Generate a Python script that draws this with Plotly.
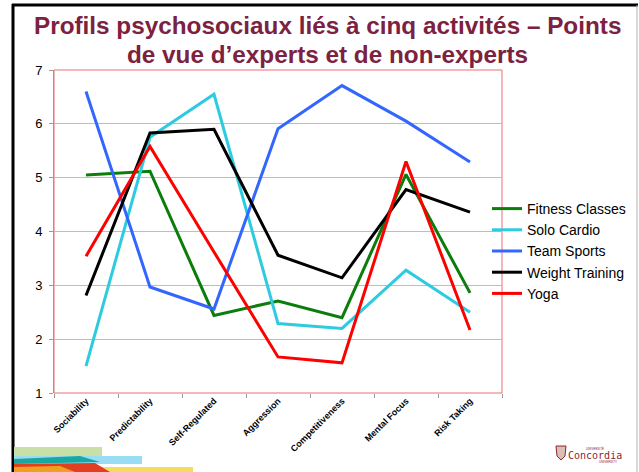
import plotly.graph_objects as go

categories = ["Sociability", "Predictability", "Self-Regulated", "Aggression",
              "Competitiveness", "Mental Focus", "Risk Taking"]
fitness_classes = [5.05, 5.12, 2.44, 2.71, 2.40, 5.06, 2.86]
solo_cardio = [1.50, 5.75, 6.55, 2.29, 2.20, 3.28, 2.50]
team_sports = [6.60, 2.97, 2.56, 5.91, 6.71, 6.05, 5.29]
weight_training = [2.81, 5.83, 5.90, 3.56, 3.14, 4.78, 4.36]
yoga = [3.54, 5.58, 3.62, 1.67, 1.56, 5.30, 2.17]

series_names = ["Fitness Classes", "Solo Cardio", "Team Sports", "Weight Training", "Yoga"]
series_values = [fitness_classes, solo_cardio, team_sports, weight_training, yoga]
series_colors = ["#0B7D0B", "#2DCBE0", "#3366FF", "#000000", "#FF0000"]

title_lines = ["Profils psychosociaux liés à cinq activités – Points",
               "de vue d’experts et de non-experts"]

W, H = 639, 472
L, R, T, B = 54, 502, 70, 393


def px(x):
    return (x - L) / (R - L)


def py(y):
    return (B - y) / (B - T)


fig = go.Figure()
for name, vals, col in zip(series_names, series_values, series_colors):
    fig.add_trace(go.Scatter(x=categories, y=vals, name=name, mode="lines",
                             line=dict(color=col, width=3)))

font = "Liberation Sans, Arial, sans-serif"

shapes = [
    # plot border (red)
    dict(type="rect", xref="paper", yref="paper", x0=0, x1=1, y0=0, y1=1,
         line=dict(color="#E87070", width=1), layer="below"),
    # slide frame
    dict(type="line", xref="paper", yref="paper", x0=px(13), x1=px(13), y0=py(4), y1=py(472),
         line=dict(color="#000000", width=3)),
    dict(type="line", xref="paper", yref="paper", x0=px(12), x1=px(638), y0=py(5), y1=py(5),
         line=dict(color="#000000", width=3)),
    dict(type="line", xref="paper", yref="paper", x0=px(637), x1=px(637), y0=py(5), y1=py(472),
         line=dict(color="#B0B0B0", width=1)),
    # decorative bars bottom-left
    dict(type="rect", xref="paper", yref="paper", x0=px(14), x1=px(102), y0=py(447), y1=py(457),
         line=dict(width=0), fillcolor="#C8E0A8"),
    dict(type="rect", xref="paper", yref="paper", x0=px(14), x1=px(142), y0=py(456), y1=py(464),
         line=dict(width=0), fillcolor="#99DDF5"),
    dict(type="rect", xref="paper", yref="paper", x0=px(14), x1=px(193), y0=py(467), y1=py(472),
         line=dict(width=0), fillcolor="#F5DC60"),
    dict(type="path", xref="paper", yref="paper",
         path=f"M {px(14)},{py(459)} L {px(80)},{py(456)} L {px(100)},{py(462)} L {px(14)},{py(464)} Z",
         line=dict(width=0), fillcolor="#1AA7A0"),
    dict(type="path", xref="paper", yref="paper",
         path=f"M {px(14)},{py(464)} L {px(95)},{py(463)} L {px(110)},{py(472)} L {px(14)},{py(472)} Z",
         line=dict(width=0), fillcolor="#E04020"),
    dict(type="path", xref="paper", yref="paper",
         path=f"M {px(14)},{py(467)} L {px(60)},{py(466)} L {px(75)},{py(472)} L {px(14)},{py(472)} Z",
         line=dict(width=0), fillcolor="#F0A020"),
    # Concordia logo mark
    dict(type="path", xref="paper", yref="paper",
         path=f"M {px(556)},{py(446)} L {px(566)},{py(446)} L {px(565)},{py(456)} L {px(561)},{py(460)} L {px(557)},{py(456)} Z",
         line=dict(color="#8C2633", width=1), fillcolor="#D9BFB5"),
]

annotations = [
    dict(text=title_lines[0], xref="paper", yref="paper", x=px(327), y=py(26),
         xanchor="center", yanchor="middle", showarrow=False,
         font=dict(family=font, size=24.3, color="#7D2140", weight="bold")),
    dict(text=title_lines[1], xref="paper", yref="paper", x=px(327), y=py(55),
         xanchor="center", yanchor="middle", showarrow=False,
         font=dict(family=font, size=24.3, color="#7D2140", weight="bold")),
    dict(text="Concordia", xref="paper", yref="paper", x=px(566), y=py(455),
         xanchor="left", yanchor="middle", showarrow=False,
         font=dict(family="DejaVu Sans Mono, monospace", size=10, color="#8C2633")),
    dict(text="UNIVERSITÉ", xref="paper", yref="paper", x=px(584), y=py(448),
         xanchor="left", yanchor="middle", showarrow=False,
         font=dict(family=font, size=3, color="#8C2633")),
    dict(text="UNIVERSITY", xref="paper", yref="paper", x=px(597), y=py(462),
         xanchor="left", yanchor="middle", showarrow=False,
         font=dict(family=font, size=3, color="#8C2633")),
]

fig.update_layout(
    width=W, height=H,
    margin=dict(l=L, r=W - R, t=T, b=H - B, autoexpand=False),
    paper_bgcolor="white", plot_bgcolor="white",
    font=dict(family=font, color="#000000"),
    shapes=shapes, annotations=annotations,
    legend=dict(x=px(487), y=py(251), xanchor="left", yanchor="middle",
                font=dict(family=font, size=14), bgcolor="rgba(0,0,0,0)",
                itemwidth=30, tracegroupgap=0),
    showlegend=True,
)

fig.update_xaxes(type="category", range=[-0.5, 6.5], tickangle=-45,
                 tickfont=dict(family=font, size=9, color="#000000", weight="bold"),
                 showgrid=False, showline=False, ticks="outside", tickson="boundaries",
                 ticklen=4, tickcolor="#9A9A9A", automargin=False,
                 zeroline=False)
fig.update_yaxes(range=[1, 7], dtick=1, showgrid=True, gridcolor="#BDBDBD", gridwidth=1,
                 showline=True, linecolor="#9A9A9A", linewidth=1,
                 ticks="outside", ticklen=4, tickcolor="#9A9A9A", automargin=False,
                 ticklabelstandoff=4,
                 tickfont=dict(family=font, size=13, color="#000000"),
                 zeroline=False)

fig.write_html("out.html", config={"displayModeBar": False},
               post_script="document.body.style.margin='0px';document.body.style.overflow='hidden';")
